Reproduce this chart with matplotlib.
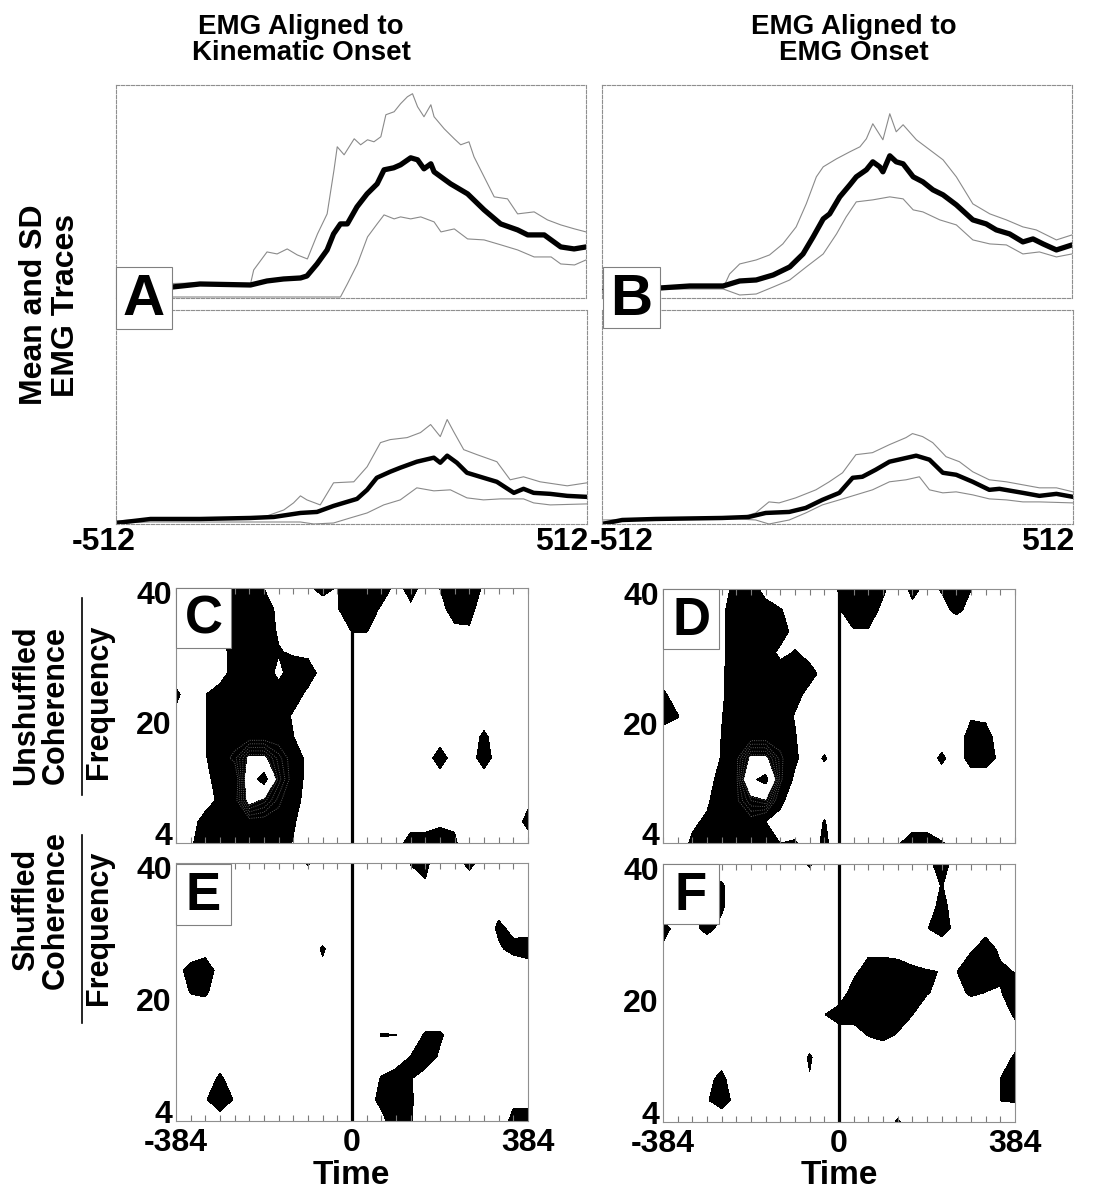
import numpy as np
import matplotlib
matplotlib.use('Agg')
import matplotlib.pyplot as plt
from matplotlib.patches import Rectangle
from matplotlib.lines import Line2D
from matplotlib.transforms import ScaledTranslation

plt.rcParams['font.family'] = ['Liberation Sans', 'DejaVu Sans']
plt.rcParams['font.weight'] = 'bold'

W, H = 1104, 1192

# ---- EMG traces: (time, amplitude) pairs, amplitude in arbitrary units ----
a_top_mean = [(-512, 11), (-389, 11), (-329, 14), (-219, 13), (-183, 17), (-147, 19), (-110, 20),
              (-96, 22), (-74, 34), (-52, 48), (-38, 64), (-23, 74), (-8, 74), (13, 91), (35, 104),
              (57, 114), (72, 128), (93, 130), (108, 133), (130, 140), (145, 138), (159, 129),
              (174, 134), (181, 126), (217, 114), (254, 104), (290, 88), (326, 74), (363, 68),
              (385, 63), (421, 63), (457, 51), (486, 49), (512, 51)]
a_top_upper = [(-512, 13), (-343, 15), (-219, 14), (-212, 28), (-183, 46), (-161, 44), (-139, 49),
               (-117, 43), (-95, 39), (-73, 64), (-52, 84), (-37, 128), (-30, 151), (-15, 143),
               (7, 159), (21, 153), (36, 158), (50, 156), (65, 161), (76, 183), (94, 186), (108, 194),
               (123, 201), (134, 204), (145, 191), (159, 181), (174, 193), (181, 181), (203, 169),
               (225, 159), (239, 153), (257, 156), (268, 141), (290, 121), (312, 101), (341, 99),
               (363, 84), (399, 86), (428, 78), (457, 73), (487, 69), (512, 66)]
a_top_lower = [(-512, 1), (-23, 1), (-8, 14), (14, 34), (36, 61), (57, 74), (72, 83), (94, 79),
               (108, 81), (130, 79), (152, 81), (181, 76), (196, 66), (225, 69), (254, 59), (290, 58),
               (327, 53), (363, 48), (399, 41), (436, 41), (457, 34), (487, 33), (512, 38)]

b_top_mean = [(-512, 9), (-386, 10), (-321, 12), (-248, 12), (-212, 17), (-176, 18), (-139, 23),
              (-103, 31), (-74, 44), (-52, 61), (-30, 79), (-16, 84), (6, 101), (28, 113), (42, 121),
              (64, 128), (78, 136), (93, 131), (100, 126), (115, 142), (129, 136), (144, 134),
              (166, 121), (187, 116), (209, 108), (231, 103), (260, 93), (296, 78), (325, 74),
              (347, 68), (376, 64), (405, 56), (427, 59), (449, 54), (478, 48), (512, 53)]
b_top_upper = [(-512, 10), (-248, 10), (-234, 24), (-212, 34), (-176, 38), (-147, 43), (-118, 54),
               (-89, 71), (-67, 94), (-45, 121), (-30, 131), (-1, 139), (28, 146), (50, 151),
               (64, 159), (78, 174), (100, 158), (115, 184), (129, 166), (144, 173), (173, 158),
               (202, 148), (231, 138), (260, 121), (296, 94), (333, 84), (369, 78), (405, 71),
               (434, 68), (478, 58), (512, 63)]
b_top_lower = [(-512, 9), (-248, 9), (-212, 3), (-176, 4), (-139, 11), (-103, 18), (-67, 31),
               (-30, 44), (-1, 64), (20, 81), (42, 96), (78, 98), (115, 101), (144, 99), (166, 88),
               (187, 86), (224, 78), (260, 73), (296, 58), (333, 54), (369, 53), (405, 44),
               (441, 46), (478, 41), (512, 44)]

a_bot_mean = [(-512, 1), (-474, 3), (-437, 5), (-329, 5), (-220, 6), (-169, 7), (-140, 9), (-111, 11),
              (-75, 12), (-39, 18), (-10, 22), (12, 25), (34, 34), (55, 46), (84, 52), (106, 56),
              (142, 62), (179, 66), (193, 61), (208, 68), (229, 61), (251, 51), (287, 46), (316, 42),
              (353, 31), (374, 35), (396, 31), (432, 30), (469, 28), (512, 27)]
a_bot_upper = [(-512, 3), (-437, 5), (-220, 6), (-184, 8), (-147, 14), (-126, 21), (-111, 28),
               (-97, 24), (-68, 19), (-39, 41), (5, 42), (34, 57), (63, 81), (84, 84), (121, 86),
               (150, 91), (172, 99), (193, 87), (208, 104), (222, 92), (244, 74), (273, 69),
               (316, 62), (345, 44), (374, 47), (410, 42), (469, 38), (512, 41)]
a_bot_lower = [(-512, 1), (-437, 2), (-111, 2), (-82, 0), (-39, 1), (-3, 6), (34, 11), (70, 19),
               (106, 24), (142, 36), (179, 33), (215, 34), (251, 26), (287, 24), (324, 25),
               (374, 25), (396, 21), (432, 19), (512, 20)]

b_bot_mean = [(-512, 0), (-468, 4), (-396, 5), (-251, 6), (-193, 7), (-156, 11), (-105, 12), (-69, 16),
              (-33, 24), (4, 31), (33, 46), (54, 47), (83, 54), (113, 62), (142, 65), (171, 68),
              (200, 64), (229, 51), (258, 49), (294, 42), (330, 34), (352, 35), (403, 31),
              (439, 28), (476, 30), (512, 27)]
b_bot_upper = [(-512, 4), (-396, 5), (-214, 6), (-178, 11), (-149, 22), (-127, 21), (-91, 26),
               (-47, 34), (-18, 42), (11, 51), (40, 69), (76, 71), (113, 79), (149, 86), (163, 90),
               (185, 87), (207, 81), (236, 67), (265, 62), (294, 52), (330, 44), (367, 42),
               (403, 39), (439, 36), (476, 36), (512, 32)]
b_bot_lower = [(-512, 2), (-396, 5), (-214, 5), (-178, 4), (-149, 0), (-105, 4), (-69, 11), (-33, 19),
               (4, 24), (40, 29), (76, 34), (113, 42), (149, 44), (178, 47), (200, 34), (229, 31),
               (258, 32), (294, 29), (330, 25), (367, 24), (403, 22), (439, 22), (512, 21)]

# ---- coherence maps: rows = frequency (4 Hz at bottom), cols = time ----
times = [-384, -352, -320, -288, -256, -224, -192, -160, -128, -96, -64, -32, 0,
         32, 64, 96, 128, 160, 192, 224, 256, 288, 320, 352, 384]
freqs = [4, 7, 10, 13, 16, 19, 22, 25, 28, 31, 34, 37, 40]

coh_c = [
    [0, 4, 9, 9, 9, 9, 9, 9, 4.5, 0, 0, 0, 0, 0, 0, 4, 6, 6, 7, 6, 0, 0, 0, 0, 0],
    [0, 3, 7, 9, 9, 9, 9, 9, 6, 0, 0, 0, 0, 0, 0, 4, 4, 4, 4.3, 4, 0, 0, 0, 0, 8],
    [0, 0, 3, 6, 9, 22, 18, 12, 7, 3, 0, 0, 0, 0, 0, 0, 0, 0, 0, 0, 0, 0, 0, 0, 3],
    [0, 0, 3, 8, 7, 25, 34, 16, 9, 3, 0, 0, 0, 0, 0, 0, 0, 0, 0, 0, 0, 0, 0, 0, 0],
    [0, 0, 4.5, 9, 12, 21, 21, 14, 9, 3, 0, 0, 0, 0, 0, 0, 0, 0, 10, 0, 0, 10, 0, 0, 0],
    [0, 0, 4.5, 9, 9, 9, 9, 9, 5.2, 0, 0, 0, 0, 0, 0, 0, 0, 0, 0, 0, 0, 7, 0, 0, 0],
    [3, 0, 4.5, 9, 9, 9, 9, 9, 4, 0, 0, 0, 0, 0, 0, 0, 0, 0, 0, 0, 0, 0, 0, 0, 0],
    [7, 0, 4.8, 9, 9, 9, 9, 9, 9, 3, 0, 0, 0, 0, 0, 0, 0, 0, 0, 0, 0, 0, 0, 0, 0],
    [0, 0, 0, 1, 9, 9, 9, 3, 9, 9, 2, 0, 0, 0, 0, 0, 0, 0, 0, 0, 0, 0, 0, 0, 0],
    [0, 0, 0, 1, 9, 9, 9, 5.5, 4, 3, 0, 0, 0, 0, 0, 0, 0, 0, 0, 0, 0, 0, 0, 0, 0],
    [0, 0, 0, 6, 9, 9, 9, 4, 0, 0, 0, 0, 5.5, 5.5, 0, 0, 0, 0, 0, 3, 4, 0, 0, 0, 0],
    [0, 0, 0, 6, 9, 9, 9, 3, 0, 0, 0, 4.5, 9, 9, 4, 0, 4, 0, 2, 9, 8, 0, 0, 0, 0],
    [0, 0, 0, 6, 9, 9, 4.9, 0, 0, 3.5, 8, 4.5, 9, 9, 9, 3, 7, 3, 5.2, 9, 9, 4, 0, 0, 0],
]

coh_d = [
    [0, 2, 6, 9, 9, 9, 9, 9, 4.9, 6, 0, 7, 0, 0, 0, 0, 4.5, 7, 7, 5.5, 3, 0, 0, 0, 0],
    [0, 0, 4, 6, 9, 9, 9, 5, 2, 0, 0, 5.5, 0, 0, 0, 0, 0, 3, 3, 0, 0, 0, 0, 0, 0],
    [0, 0, 0, 4, 9, 10, 17, 19, 7, 0, 0, 0, 0, 0, 0, 0, 0, 0, 0, 0, 0, 0, 0, 0, 0],
    [0, 0, 0, 3, 7, 10, 28, 33, 12, 3.5, 0, 0, 0, 0, 0, 0, 0, 0, 0, 0, 0, 0, 0, 0, 0],
    [0, 0, 0, 1, 5.5, 10, 21, 21, 12, 6.5, 0, 6, 0, 0, 0, 0, 0, 0, 0, 7, 0, 9, 9, 3, 0],
    [0, 0, 0, 0, 5.2, 9, 9, 9, 9, 5.5, 0, 0, 0, 0, 0, 0, 0, 0, 0, 0, 0, 9, 9, 0, 0],
    [9, 5.5, 0, 0, 4.7, 9, 9, 9, 9, 4.5, 0, 0, 0, 0, 0, 0, 0, 0, 0, 0, 0, 4, 3, 0, 0],
    [7, 0, 0, 0, 4, 9, 9, 9, 9, 7, 3, 0, 0, 0, 0, 0, 0, 0, 0, 0, 0, 0, 0, 0, 0],
    [0, 0, 0, 0, 4, 9, 9, 9, 9, 9, 7, 3, 0, 0, 0, 0, 0, 0, 0, 0, 0, 0, 0, 0, 0],
    [0, 0, 0, 0, 3.5, 9, 9, 9, 3, 5.5, 3, 0, 0, 0, 0, 0, 0, 0, 0, 0, 0, 0, 0, 0, 0],
    [0, 0, 0, 0, 3.5, 9, 9, 9, 9, 2, 0, 0, 0, 4.5, 4.5, 0, 0, 0, 0, 0, 0, 0, 0, 0, 0],
    [0, 0, 0, 0, 3.5, 9, 9, 9, 5.5, 2, 0, 0, 4.5, 9, 9, 3, 0, 3, 0, 3, 6.5, 3, 0, 0, 0],
    [0, 0, 0, 0, 0, 9, 9, 1.5, 0, 0, 0, 0, 5.5, 9, 9, 6.5, 0, 7, 3, 5.5, 9, 5.1, 0, 0, 0],
]

coh_e = [
    [0, 0, 0, 1.7, 0, 0, 0, 0, 0, 0, 0, 0, 0, 0, 3, 9, 5.5, 2, 0, 0, 0, 0, 2, 6.5, 8],
    [0, 0, 4.5, 9, 4.5, 0, 0, 0, 0, 0, 0, 0, 0, 2, 7, 9, 6, 0, 0, 0, 0, 0, 0, 4, 3],
    [0, 0, 0, 6.5, 0, 0, 0, 0, 0, 0, 0, 0, 0, 0, 5.5, 9, 5.5, 2, 0, 0, 0, 0, 0, 0, 0],
    [0, 0, 0, 0, 0, 0, 0, 0, 0, 0, 0, 0, 0, 0, 0, 0, 5.2, 9, 4, 0, 0, 0, 0, 0, 0],
    [0, 0, 0, 0, 0, 0, 0, 0, 0, 0, 0, 0, 0, 0, 5.4, 5.1, 0, 6, 6, 2, 0, 0, 0, 0, 0],
    [0, 0, 0, 0, 0, 0, 0, 0, 0, 0, 0, 0, 0, 0, 0, 0, 0, 0, 0, 0, 0, 0, 0, 0, 0],
    [0, 5.5, 6.5, 0, 0, 0, 0, 0, 0, 0, 0, 0, 0, 0, 0, 0, 0, 0, 0, 0, 0, 0, 0, 0, 0],
    [2, 8, 8, 3, 0, 0, 0, 0, 0, 0, 3, 0, 0, 0, 0, 0, 0, 0, 0, 0, 0, 0, 0, 0, 0],
    [0, 0, 3, 0, 0, 0, 0, 0, 0, 0, 6, 0, 0, 0, 0, 0, 0, 0, 0, 0, 0, 0, 4, 7, 9],
    [0, 0, 0, 0, 0, 0, 0, 0, 0, 0, 0, 0, 0, 0, 0, 0, 0, 0, 0, 0, 0, 0, 6.5, 3, 1.5],
    [0, 0, 0, 0, 0, 0, 0, 0, 0, 0, 0, 0, 0, 0, 0, 0, 0, 0, 0, 0, 0, 0, 2, 0, 0],
    [0, 0, 0, 0, 0, 0, 0, 0, 0, 0, 0, 0, 0, 0, 0, 0, 0, 4.3, 0, 0, 3, 0, 0, 0, 0],
    [0, 0, 0, 0, 0, 0, 0, 0, 0, 5.8, 0, 0, 0, 0, 0, 0, 5.5, 7, 0, 3.5, 6, 3.5, 0, 0, 0],
]

coh_f = [
    [0, 0, 0, 0, 0, 0, 0, 0, 0, 0, 0, 0, 0, 0, 0, 0, 6, 0, 0, 0, 0, 0, 0, 0, 0],
    [0, 0, 0, 4.5, 8, 3, 0, 0, 0, 0, 0, 0, 0, 0, 0, 0, 0, 0, 0, 0, 0, 0, 0, 5.1, 5.5],
    [0, 0, 0, 3, 7, 0, 0, 0, 0, 0, 4.5, 0, 0, 0, 0, 0, 0, 0, 0, 0, 0, 0, 0, 5.1, 9],
    [0, 0, 0, 0, 2, 0, 0, 0, 0, 0, 6, 0, 0, 0, 0, 0, 0, 0, 0, 0, 0, 0, 0, 0, 6.5],
    [0, 0, 0, 0, 0, 0, 0, 0, 0, 0, 0, 0, 0, 0, 5.1, 6.5, 4.3, 0, 0, 0, 0, 0, 0, 0, 0],
    [0, 0, 0, 0, 0, 0, 0, 0, 0, 0, 0, 4.8, 9, 9, 9, 9, 8, 5.2, 0, 0, 0, 0, 0, 0, 6.5],
    [0, 0, 0, 0, 0, 0, 0, 0, 0, 0, 0, 0, 0, 9, 9, 9, 9, 9, 5.5, 3, 3, 6, 4.8, 4.5, 9],
    [0, 0, 0, 0, 0, 0, 0, 0, 0, 0, 0, 0, 0, 3, 9, 9, 9, 7, 5.5, 4.8, 4.8, 9, 9, 6, 4.8],
    [4, 0, 0, 0, 0, 0, 0, 0, 0, 0, 0, 0, 0, 0, 3, 3, 2, 0, 0, 0, 0, 4.5, 8, 4, 0],
    [7, 3, 3, 7, 3, 0, 0, 0, 0, 0, 0, 0, 0, 0, 0, 0, 0, 0, 4.7, 8, 3, 0, 3, 0, 0],
    [0, 0, 0, 9, 6, 0, 0, 0, 0, 0, 0, 0, 0, 0, 0, 0, 0, 0, 2, 7, 2, 0, 0, 0, 0],
    [0, 0, 0, 9, 6, 0, 0, 0, 0, 0, 0, 0, 0, 0, 0, 0, 0, 0, 0, 5.5, 0, 0, 0, 0, 0],
    [0, 0, 0, 0, 0, 0, 0, 0, 0, 0, 6, 0, 0, 0, 0, 0, 0, 0, 3, 8, 2, 0, 0, 0, 0],
]

sig_level = 5

fig = plt.figure(figsize=(W / 100, H / 100), dpi=100)


def rect(x0, y0, x1, y1):
    # pixel box (top-left origin) -> figure fraction
    return [x0 / W, 1 - y1 / H, (x1 - x0) / W, (y1 - y0) / H]


def ftext(x, y, s, **kw):
    fig.text(x / W, 1 - y / H, s, **kw)


def frame(ax, style):
    for sp in ax.spines.values():
        sp.set_color('#8f8f8f')
        sp.set_linewidth(0.8)
        sp.set_linestyle(style)


def trace_panel(box, top, mean, upper, lower, lw):
    ax = fig.add_axes(rect(*box))
    for tr in (upper, lower):
        t, v = zip(*tr)
        ax.plot(t, v, color='#8a8a8a', lw=0.8)
    t, v = zip(*mean)
    ax.plot(t, v, color='black', lw=lw, solid_capstyle='round')
    ax.set_xlim(-512, 512)
    ax.set_ylim(0, top)
    ax.set_xticks([])
    ax.set_yticks([])
    frame(ax, (0, (3, 1.5)))
    return ax


trace_panel((116, 85, 586, 298), 212.7, a_top_mean, a_top_upper, a_top_lower, 3.8)
trace_panel((116, 310, 587, 524), 213, a_bot_mean, a_bot_upper, a_bot_lower, 3.2)
trace_panel((602, 85, 1072, 298), 212.7, b_top_mean, b_top_upper, b_top_lower, 3.8)
trace_panel((602, 310, 1073, 524), 213, b_bot_mean, b_bot_upper, b_bot_lower, 3.2)


def coh_panel(box, grid, show_time):
    ax = fig.add_axes(rect(*box))
    z = np.array(grid, dtype=float)
    ax.contourf(times, freqs, z, levels=[sig_level, 20, 30, 100],
                colors=['black', 'white', 'black'])
    if z.max() > 12:
        ax.contour(times, freqs, z, levels=[11, 13, 15, 17, 19],
                   colors='#7a7a7a', linewidths=0.6, linestyles=':')
    ax.axvline(0, color='black', lw=2.3)
    ax.set_xlim(-384, 384)
    ax.set_ylim(4, 40)
    ax.set_yticks([4, 20, 40])
    ax.set_yticklabels(['4', '20', '40'], fontsize=23, fontweight='bold')
    ax.tick_params(axis='y', length=0, pad=3)
    # labels sit a little inside the axis range, as in the original layout
    for lab, dy in zip(ax.get_yticklabels(), [6.5, 5, -3]):
        lab.set_transform(lab.get_transform() + ScaledTranslation(0, dy / 72, fig.dpi_scale_trans))
    if show_time:
        ax.set_xticks([-384, 0, 384])
        ax.set_xticklabels(['-384', '0', '384'], fontsize=23, fontweight='bold')
        ax.tick_params(axis='x', which='major', length=0, pad=5)
    else:
        ax.set_xticks([])
    ax.set_xticks(times, minor=True)
    ax.tick_params(axis='x', which='minor', direction='in', top=True, bottom=True,
                   length=4, width=0.8, color='#7a7a7a')
    frame(ax, '-')
    return ax


coh_panel((176, 588, 528, 843), coh_c, False)
coh_panel((176, 863, 528, 1121), coh_e, True)
coh_panel((663, 589, 1015, 843), coh_d, False)
coh_panel((663, 864, 1015, 1122), coh_f, True)

# panel letters in boxes
letters = [('A', (116, 267, 172, 329), 42), ('B', (603, 267, 660, 328), 42),
           ('C', (176, 588, 231, 648), 38), ('D', (663, 589, 719, 649), 38),
           ('E', (176, 864, 231, 925), 38), ('F', (663, 864, 719, 924), 38)]
for s, (x0, y0, x1, y1), fs in letters:
    fig.add_artist(Rectangle((x0 / W, 1 - y1 / H), (x1 - x0) / W, (y1 - y0) / H,
                             transform=fig.transFigure, facecolor='white',
                             edgecolor='#808080', lw=0.8, zorder=5))
    ftext((x0 + x1) / 2, (y0 + y1) / 2 + 2, s, ha='center', va='center',
          fontsize=fs, fontweight='bold', zorder=6)

# column titles
ftext(301, 40, 'EMG Aligned to\nKinematic Onset', ha='center', va='center',
      fontsize=20, fontweight='bold', linespacing=1.05)
ftext(854, 40, 'EMG Aligned to\nEMG Onset', ha='center', va='center',
      fontsize=20, fontweight='bold', linespacing=1.05)

# trace axis end labels
ftext(104, 542, '-512', ha='center', va='center', fontsize=23, fontweight='bold')
ftext(588, 542, '512', ha='right', va='center', fontsize=23, fontweight='bold')
ftext(622, 542, '-512', ha='center', va='center', fontsize=23, fontweight='bold')
ftext(1074, 542, '512', ha='right', va='center', fontsize=23, fontweight='bold')

# row labels
ftext(50, 305, 'Mean and SD\nEMG Traces', ha='center', va='center', rotation=90,
      fontsize=23, fontweight='bold', linespacing=1.05)
ftext(41, 705, 'Unshuffled\nCoherence', ha='center', va='center', rotation=90,
      fontsize=22, fontweight='bold', linespacing=1.0)
ftext(99, 702, 'Frequency', ha='center', va='center', rotation=90,
      fontsize=22, fontweight='bold')
ftext(41, 910, 'Shuffled\nCoherence', ha='center', va='center', rotation=90,
      fontsize=22, fontweight='bold', linespacing=1.0)
ftext(99, 928, 'Frequency', ha='center', va='center', rotation=90,
      fontsize=22, fontweight='bold')
for ya, yb in ((598, 795), (835, 1023)):
    fig.add_artist(Line2D([82 / W, 82 / W], [1 - ya / H, 1 - yb / H],
                          transform=fig.transFigure, color='black', lw=1.2))

ftext(351, 1176, 'Time', ha='center', va='center', fontsize=24, fontweight='bold')
ftext(839, 1176, 'Time', ha='center', va='center', fontsize=24, fontweight='bold')

fig.savefig('out.png', dpi=100)
